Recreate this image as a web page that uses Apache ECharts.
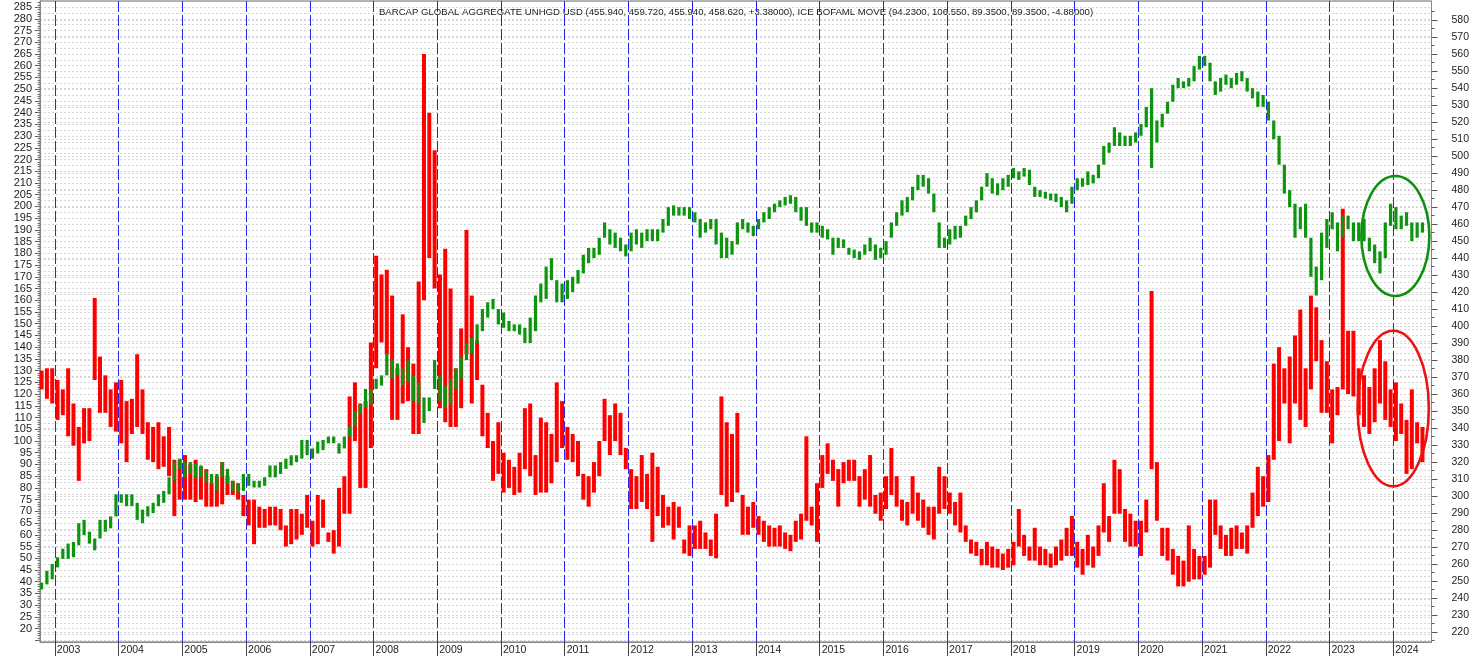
<!DOCTYPE html>
<html><head><meta charset="utf-8">
<script src="https://cdn.jsdelivr.net/npm/echarts@6/dist/echarts.min.js"></script>
<style>html,body{margin:0;padding:0;background:#fff}#c{width:1472px;height:656px}</style>
</head><body><div id="c"></div>
<script>
// ---- data (monthly high / low, Oct 2002 .. Jun 2024) ----
const firstYear = 2002, firstMonth = 10;
const years = [2003,2004,2005,2006,2007,2008,2009,2010,2011,2012,2013,2014,2015,2016,2017,2018,2019,2020,2021,2022,2023,2024];
const titleText = 'BARCAP GLOBAL AGGREGATE UNHGD USD (455.940, 459.720, 455.940, 458.620, +3.38000), ICE BOFAML MOVE (94.2300, 106.550, 89.3500, 89.3500, -4.88000)';

const moveHigh = [
 130,131,131,
 126,122,131,116,106,114,114,161,136,128,122,125,
 126,117,118,137,122,108,106,108,102,106,92,92,
 94,90,92,89,88,82,85,91,85,83,82,77,
 75,75,72,71,72,72,71,64,71,71,69,77,
 66,77,75,61,62,80,85,119,125,116,117,142,
 179,171,173,162,131,154,140,133,168,265,240,224,
 171,182,165,131,148,190,162,143,124,112,100,108,
 95,92,89,95,114,116,94,110,108,103,125,117,
 106,103,100,86,85,91,100,118,111,116,112,97,
 88,85,94,86,95,89,77,72,74,72,58,64,
 64,66,61,58,69,119,108,103,112,77,72,74,
 68,66,64,63,64,61,60,66,69,102,72,82,
 94,99,92,88,91,92,92,85,88,94,77,78,
 85,97,85,75,74,85,78,75,72,72,89,85,
 78,74,78,64,58,57,54,57,55,54,52,54,
 57,71,60,55,63,55,54,52,55,58,63,68,
 57,54,60,55,64,82,68,92,88,71,69,66,
 66,75,164,91,63,63,54,51,49,64,54,51,
 51,75,75,64,60,63,64,61,64,78,89,85,
 94,133,140,131,136,145,156,131,162,157,143,134,
 122,123,199,147,147,131,128,123,131,143,134,122,
 125,116,109,122,108,106
];
const moveLow = [
 122,118,116,
 109,111,102,98,83,99,100,126,112,112,106,104,
 99,91,103,106,103,92,91,88,89,85,68,75,
 75,75,74,75,72,72,72,73,77,77,75,68,
 64,56,63,63,64,64,62,55,56,58,60,63,
 55,56,63,57,52,55,69,69,100,80,80,97,
 131,142,137,109,109,116,117,103,103,160,178,165,
 114,108,106,106,114,137,116,126,102,97,83,86,
 78,80,77,78,88,85,77,78,78,82,91,97,
 92,91,85,75,72,78,85,100,94,100,94,88,
 71,71,74,71,57,68,63,64,58,63,52,51,
 54,54,54,51,50,77,72,74,78,60,60,63,
 60,57,55,55,55,54,53,57,58,66,64,57,
 80,86,83,72,82,83,83,72,75,72,69,66,
 71,77,72,66,64,69,66,63,60,58,69,71,
 69,64,61,57,52,51,47,47,46,46,45,46,
 47,55,51,49,49,47,47,46,47,49,51,51,
 46,43,47,46,51,61,57,69,69,57,55,55,
 51,61,88,66,51,49,43,38,38,40,41,41,
 43,46,60,54,51,51,54,54,52,63,68,72,
 74,92,100,116,99,116,109,106,122,134,112,112,
 99,111,122,120,119,111,106,103,108,116,109,106,
 100,103,86,88,99,91
];
const aggHigh = [
 249,256,260,
 264,269,272,273,284,286,279,275,286,286,288,301,
 301,301,301,296,292,294,296,301,303,311,320,322,
 320,320,319,318,315,313,313,320,316,309,307,313,
 313,309,309,311,318,318,320,322,324,324,333,333,
 328,332,333,335,335,331,335,341,350,354,363,363,
 369,371,384,380,378,375,380,371,367,358,358,380,
 371,365,369,375,382,390,393,401,410,414,416,410,
 408,403,401,401,399,405,418,425,435,440,427,425,
 427,429,433,442,446,446,452,461,457,455,452,448,
 455,457,455,457,457,457,463,470,471,470,470,470,
 467,463,461,463,463,455,452,450,461,463,461,459,
 463,467,470,472,474,476,477,476,470,470,461,461,
 459,457,452,452,451,446,445,444,448,452,448,446,
 450,461,467,474,476,482,489,489,487,478,461,452,
 457,459,459,465,470,474,482,490,487,484,487,489,
 493,491,493,492,482,480,479,478,478,476,474,482,
 487,487,491,489,495,506,508,517,514,512,512,514,
 519,529,540,521,525,532,542,546,544,546,553,559,
 559,555,544,546,548,546,549,550,546,540,538,536,
 532,521,512,495,480,472,470,472,452,435,455,463,
 467,461,465,465,461,461,463,452,448,444,461,472,
 470,465,467,461,461,461
];
const aggLow = [
 245,248,251,
 258,263,263,264,271,277,272,268,275,279,281,288,
 296,294,294,286,284,288,290,294,296,301,309,316,
 311,313,311,311,308,307,303,311,307,303,302,303,
 306,305,305,306,311,311,313,316,318,320,322,324,
 322,325,327,331,331,325,328,335,341,348,352,354,
 363,365,371,369,371,365,367,356,354,343,350,363,
 356,352,354,363,369,380,384,390,397,405,410,401,
 399,397,397,395,390,390,397,414,416,427,414,414,
 416,420,425,431,437,440,442,452,448,446,444,441,
 444,448,446,450,450,450,455,459,465,465,465,463,
 461,452,455,457,448,440,440,442,448,457,455,453,
 457,461,463,467,470,471,472,467,462,459,455,455,
 452,451,442,446,446,442,440,439,442,444,439,440,
 442,452,459,465,467,474,480,482,478,467,446,446,
 448,451,452,459,463,467,474,482,478,477,480,482,
 487,486,488,483,476,476,475,474,473,470,467,472,
 480,482,483,484,487,495,502,506,506,506,506,508,
 512,517,493,508,517,525,532,540,540,541,544,551,
 553,544,536,538,542,540,542,544,538,534,529,529,
 521,510,495,478,470,452,457,452,429,418,427,446,
 457,444,452,457,450,450,450,444,437,431,440,459,
 457,457,459,450,452,455
];
// tick label values
const leftLabels = [20,25,30,35,40,45,50,55,60,65,70,75,80,85,90,95,100,105,110,115,120,125,130,135,140,145,150,155,160,165,170,175,180,185,190,195,200,205,210,215,220,225,230,235,240,245,250,255,260,265,270,275,280,285];
const rightLabels = [220,230,240,250,260,270,280,290,300,310,320,330,340,350,360,370,380,390,400,410,420,430,440,450,460,470,480,490,500,510,520,530,540,550,560,570,580];
// annotation ovals (month index, value)
const greenOval = {x:[282.0, 294.8], y:[417.7, 488.3]};
const redOval = {x:[281.3, 294.7], y:[80.7, 147.0]};

// ---- derived tick sets ----
const monthIdx = y => (y - 2000) * 12;
const yearTicks = years.map(monthIdx);
const leftMajor = [15].concat(leftLabels);
const leftGrid = []; for (let v = 15; v <= 285; v += 2.5) leftGrid.push(v);
const leftMinor = []; for (let v = 15; v <= 287; v += 1) leftMinor.push(v);
const rightMinor = rightLabels.map(v => v - 5).concat([585]);
const first = monthIdx(firstYear) + firstMonth - 1;

function rows(hi, lo){ return hi.map((h, i) => [first + i + 0.5, lo[i], h]); }
function barRender(color, w){
  return function(params, api){
    const x = api.value(0);
    const pTop = api.coord([x, api.value(2)]);
    const pBot = api.coord([x, api.value(1)]);
    return {type:'rect', shape:{x: pTop[0] - w/2, y: pTop[1], width: w, height: Math.max(1, pBot[1] - pTop[1])},
            style:{fill: color}};
  };
}

const L = {min:14.3, max:287.6}, R = {min:214.1, max:591.3};
const dotted = {color:'#d6d6d6', type:[2,2], width:1};
const font = 'Liberation Sans';
const hidden = {axisLabel:{show:false}, splitLine:{show:false}, axisLine:{show:false}};

const chart = echarts.init(document.getElementById('c'));
chart.setOption({
  animation:false,
  textStyle:{fontFamily:font},
  title:{text:titleText, left:'center', top:2, textStyle:{fontSize:9.6, fontWeight:'normal', color:'#222', fontFamily:font}},
  grid:{left:40, right:40, top:1, bottom:14, show:true, borderColor:'#666', borderWidth:1},
  xAxis:{type:'value', min:33.2, max:295.2,
    axisLine:{lineStyle:{color:'#888'}},
    axisTick:{customValues:yearTicks, length:14, lineStyle:{color:'#444'}},
    axisLabel:{customValues:yearTicks, formatter:v => String(2000 + Math.round(v/12)), align:'left', margin:3, padding:[0,0,0,2], fontSize:10.5, color:'#222'},
    splitLine:{show:true, lineStyle:{color:'#2323ff', type:[11,3], width:1}}
  },
  yAxis:[
    Object.assign({type:'value', position:'left'}, L, {
      axisLine:{show:true, lineStyle:{color:'#888'}},
      axisTick:{show:false, customValues:leftGrid},
      axisLabel:{customValues:leftLabels, margin:8, fontSize:11, color:'#222'},
      splitLine:{show:true, lineStyle:dotted}}),
    Object.assign({type:'value', position:'right'}, R, {
      axisLine:{show:true, lineStyle:{color:'#888'}},
      axisTick:{show:true, customValues:rightLabels, length:6, lineStyle:{color:'#555'}},
      axisLabel:{customValues:rightLabels, margin:20, fontSize:10.5, color:'#222'},
      splitLine:{show:true, lineStyle:dotted}}),
    Object.assign({type:'value', position:'left'}, L, hidden, {axisTick:{show:true, customValues:leftMajor, length:5, lineStyle:{color:'#555'}}}),
    Object.assign({type:'value', position:'left'}, L, hidden, {axisTick:{show:true, customValues:leftMinor, length:2.5, lineStyle:{color:'#777'}}}),
    Object.assign({type:'value', position:'right'}, R, hidden, {axisTick:{show:true, customValues:rightMinor, length:3, lineStyle:{color:'#555'}}})
  ],
  series:[
    {name:'ICE BOFAML MOVE', type:'custom', yAxisIndex:0, renderItem:barRender('#ff0000', 4), data:rows(moveHigh, moveLow), encode:{x:0, y:[1,2]}, z:3},
    {name:'BARCAP GLOBAL AGGREGATE UNHGD USD', type:'custom', yAxisIndex:1, renderItem:barRender('#0e940e', 3.2), data:rows(aggHigh, aggLow), encode:{x:0, y:[1,2]}, z:4}
  ]
});

function oval(o, yAxisIndex, color){
  const x1 = chart.convertToPixel({xAxisIndex:0}, o.x[0]);
  const x2 = chart.convertToPixel({xAxisIndex:0}, o.x[1]);
  const y1 = chart.convertToPixel({yAxisIndex:yAxisIndex}, o.y[1]);
  const y2 = chart.convertToPixel({yAxisIndex:yAxisIndex}, o.y[0]);
  return {type:'ellipse', z:100, shape:{cx:(x1+x2)/2, cy:(y1+y2)/2, rx:(x2-x1)/2, ry:(y2-y1)/2},
          style:{fill:'none', stroke:color, lineWidth:2.6}};
}
chart.setOption({graphic:[oval(greenOval, 1, '#0f900f'), oval(redOval, 0, '#f01010')]});
</script></body></html>
